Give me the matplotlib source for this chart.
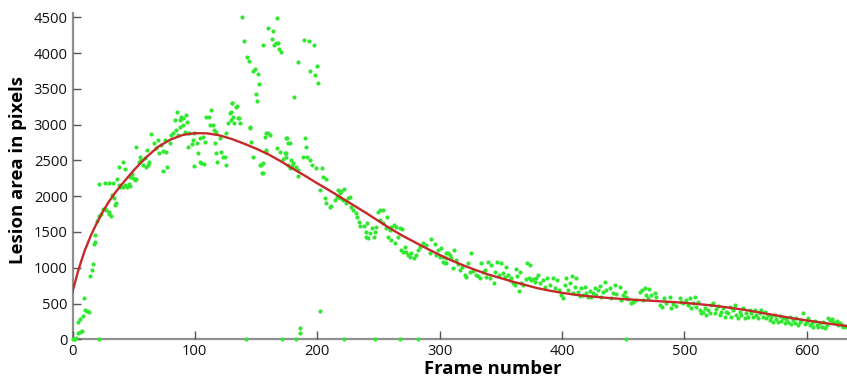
import matplotlib
matplotlib.use("Agg")
import matplotlib.pyplot as plt

# ---- data ----
pts_a = [(0,0),(1,8),(2,0),(3,12),(4.3,83),(6.2,106),(7.6,116),(4.3,246),(6.3,284),(8.4,330),
         (10.6,410),(12,400),(13.3,377),(9.3,573),(14.4,884),(15.8,968),(16.6,1048),(17.4,1327),
         (18.6,1364),(18,1457),(19.9,1657),(21.5,1723),(23.5,1747),(24.8,1817),(26.7,1825),
         (27.5,1807),(29.7,1751),(31.6,1727),(30.2,1779),(22,2166),(26.2,2188),(29.7,2188),
         (33,2188),(32.4,2016),(34.3,1970),(35.7,1900),(35.1,1872),(36.2,2240),(38.4,2156),
         (39.2,2124),(41.1,2124),(43.1,2156),(44.4,2124),(45.8,2170),(46.6,2142),(37.6,2412),
         (41.1,2482),(42.5,2380),(47.2,2272),(49.3,2258),(50.7,2226),(48.8,2310),(51.5,2236),
         (21.4,0)]

pts_b = [(51.5,2692),(54.8,2552),(56.1,2506),(57.5,2436),(54.2,2482),(58.9,2529),(60.8,2645),
         (60.2,2412),(61.6,2436),(62.9,2482),(64.3,2869),(67,2739),(68.4,2669),(69.8,2785),
         (71.1,2599),(72.5,2715),(73.9,2636),(76,2785),(76.6,2622),(73.9,2356),(77.1,2412),
         (79.3,2739),(80.7,2855),(82,2879),(84.8,2925),(86.1,2855),(83.4,3065),(85.3,3172),
         (87.5,3065),(88.8,3111),(90.7,3088),(92.4,3134),(87.5,2971),(90.2,2995),(91.6,2901),
         (93.7,3041),(95.6,2879),(94.3,2692),(97.8,2725),(99.7,2422),(98.4,2785),(101.6,2748),
         (99.7,2887),(103.8,2482),(105.2,2459),(107.1,2450),(102.4,2599),(106.5,2831),
         (103.8,2809),(107.9,2761),(109.3,3102),(111.4,3102),(112,2995),(113.4,3204),
         (114.7,2995),(115.3,2925),(116.9,2901),(116.1,2739),(117.4,2599),(118,2482),
         (120.2,2817),(121.5,2622),(122.9,2552),(124.3,2552),(125.1,2436),(125.6,2879),
         (127,3018),(128.9,3158),(129.7,3065),(130.5,3298),(132.4,3018),(133.8,3250),
         (135.1,3088),(136.5,3018),(144.7,2971),(146.1,2761),(147.4,2552),(152.9,2436),
         (141.4,0)]

pts_c = [(138.4,4508),(167,4494),(160,4346),(163.8,4308),(139.8,4173),(155.6,4113),
         (163.2,4192),(165,4113),(166.5,4136),(168,4136),(168.6,4052),(170,4011),(188.8,4183),
         (193,4173),(197,4113),(142.5,3941),(143.9,3889),(184.7,3880),(148.8,3773),(147.4,3750),
         (152,3707),(199.7,3824),(194,3754),(198,3698),(200.9,3586),(152.6,3563),(150.1,3428),
         (150.4,3335),(181.2,3390),(130.5,3306),(134.3,3260),(129.7,3176),(131.5,3111),
         (135.7,3088)]

pts_d = [(145.3,2948),(155.6,2459),(155.6,2320),(157,2831),(158.4,2879),(161.6,2855),
         (158.4,2622),(167.3,2669),(169.2,2622),(174.7,2809),(176,2739),(173.3,2599),
         (174.7,2552),(178.8,2506),(180.1,2459),(184.2,2366),(182.9,2412),(154.2,2436),
         (155.1,2328),(159.7,2879),(158.3,2645),(174.1,2608),(175.5,2809),(177.4,2748),
         (176,2436),(178,2390),(179.6,2422),(184.2,2282),(171.9,2515),(189.7,2809),(191,2692),
         (188.3,2552),(191.6,2543),(193.7,2506),(195.9,2436),(199.2,2390),(204.1,2390),
         (202.5,2086),(204.6,2264),(207.4,2236),(206,1970),(207.4,1900),(210.1,1845),
         (211.5,1863),(214.2,1947),(216.1,1993),(218.3,2040),(216.9,2086),(219.6,2077),
         (221.5,2096),(218.8,1970),(221,1947),(223.7,1900),(225.1,1970),(226.4,1993),
         (227.8,1853),(229.1,1807),(231.3,1761),(232.4,1713),(234,1643),(234.6,1583),
         (237.9,1583),(240.6,1621),(240.1,1504),(239.5,1434),(241.4,1411),(242.8,1481),
         (245,1551),(246.9,1504),(246.1,1434),(248.3,1574),(249.6,1783),(251.5,1807),
         (253.7,1807),(251,1667),(253.7,1621),(256.9,1713),(256.4,1551),(259.1,1527),
         (257.7,1434),(260.5,1574),(262.4,1597),(264.6,1574),(267.3,1551),(269.5,1537),
         (260.5,1388),(263.2,1341),(265.9,1434),(268.7,1248),(270,1224),(271.4,1294),
         (272.8,1224),(274.1,1178),(275.5,1154),(276.9,1202),(278.8,1132),(280.4,1178),
         (282.3,1248),(284.2,1294),(286.4,1341),(289.1,1318),(291.8,1202),(293.2,1397),
         (295.9,1332),(297.3,1178),(298.6,1248),(300,1154),(302.7,1154),(304.1,1062),
         (306.8,1202),(305.5,1132),(186.1,154),(186.1,84),(201.9,400),(171.6,0),(182.4,0),
         (222.3,0),(246.9,0),(267.3,0),(282.3,0)]

pts_e = [(301.4,1272),(304.9,1211),(308.2,1178),(311.5,1248),(302.7,1085),(305.5,1062),
         (309.6,1132),(313.7,1108),(315,1052),(310.9,992),(316.4,968),(318.6,1015),(320.4,899),
         (321.8,866),(323.2,1062),(325.9,1202),(325.1,945),(327.3,959),(329.4,899),(331.3,885),
         (332.7,861),(334.1,1062),(335.4,945),(336.8,968),(338.2,875),(339.5,1085),(340.9,852),
         (342.3,1038),(344.2,791),(345,945),(346.9,1085),(348.5,899),(350.4,1062),(351.8,931),
         (353.1,875),(354.5,1015),(355.9,899),(357.2,829),(358.6,861),(359.9,783),(361.3,759),
         (362.7,978),(363.2,885),(364.9,679),(366,945),(366.8,783),(368.1,759),(370.3,838),
         (371.4,1062),(373.6,1038),(373,852),(374.9,829),(376.3,838),(377.7,805),(379,861),
         (380.4,899),(381.8,783),(384.5,829),(385.8,727),(387.8,852),(389.9,759),(392.6,861),
         (394,713),(395.9,829),(397.6,689),(399.5,619),(400.8,573),(402.2,759),(403.6,861),
         (404.9,689),(406.3,783),(408.5,885),(409,643),(410.4,727),(411.7,852),(413.1,665),
         (414.5,605),(415.8,713),(417.2,619),(418.5,727),(419.9,643),(421.3,587),(422.6,679),
         (424,595),(425.4,643),(426.7,713),(428.1,619),(429.4,689),(430.8,745),(432.2,595),
         (433.5,665),(434.9,805),(436.3,689),(439,713),(440.4,573),(441.7,643),(443.1,759),
         (444.5,637),(447.2,727),(448.5,549),(449.9,619),(451.2,665),(452.6,595),(454,559),
         (456.7,503),(458.1,525),(460.8,549),(452.6,0)]

pts_f = [(463.5,665),(465.7,689),(467.6,713),(471.1,699),(469,619),(473,619),(475.7,643),
         (466.2,549),(470.3,573),(477.1,595),(479.8,479),(482,447),(483.1,573),(485.3,503),
         (488,595),(489.4,433),(490.8,493),(493.5,465),(496.2,573),(497.6,525),(499,503),
         (501.1,549),(503,479),(504.4,573),(505.8,433),(507.1,511),(508.5,595),(509.9,455),
         (511.2,525),(512.6,409),(514,363),(515.3,385),(516.7,433),(518.1,339),(519.4,409),
         (520.8,363),(522.1,479),(523.5,503),(524.9,363),(526.2,419),(527.6,465),(529,339),
         (530.3,385),(531.7,433),(533.1,315),(534.4,385),(535.8,363),(537.1,455),(538.5,307),
         (539.9,409),(541.2,479),(542.6,339),(544,293),(545.3,385),(546.7,339),(548.1,433),
         (549.4,293),(550.8,363),(552.1,315),(553.5,409),(554.9,363),(556.2,307),(557.6,409),
         (559,339),(560.3,293),(561.7,363),(563.1,409),(564.4,315),(565.8,385),(567.2,293),
         (568.5,339),(569.9,269),(571.2,307),(572.6,245),(574,339),(575.3,279),(576.7,245),
         (578.1,325),(579.4,259),(580.8,293),(582.2,223),(583.5,279),(584.9,245),(586.2,307),
         (587.6,213),(589,269),(590.3,231),(591.7,293),(593.1,199),(594.4,245),(595.8,269),
         (597.2,363),(598.5,213),(599.9,245),(601.3,293),(602.6,199),(604,231),(605.4,175),
         (606.7,259),(608.1,199),(609.4,167),(610.8,223),(612.2,175),(613.5,245),(614.9,153),
         (616.3,199),(617.6,293),(619,269),(620.4,279),(621.7,245),(623.1,223),(624.5,259),
         (625.8,199),(627.2,223),(628.6,199),(629.9,175),(631.3,185),(632.7,167)]

fit_x = [0,5,10,15,20,25,30,35,40,45,50,60,70,80,90,100,110,120,130,140,150,160,170,180,190,
         200,210,220,230,240,250,260,270,280,290,300,310,320,330,340,350,360,370,380,390,400,
         410,420,430,440,450,460,470,480,490,500,510,520,530,540,550,560,570,580,590,600,610,
         620,633]
fit_y = [665,980,1240,1450,1630,1790,1930,2050,2160,2260,2360,2540,2690,2790,2855,2880,2878,
         2850,2800,2735,2665,2585,2490,2385,2285,2180,2080,1975,1870,1765,1655,1545,1445,1355,
         1265,1180,1100,1030,965,905,855,805,760,715,680,650,625,605,590,575,563,552,542,532,
         522,510,495,478,458,435,410,380,350,320,290,265,240,215,185]

x_ticks = [0, 100, 200, 300, 400, 500, 600]
y_ticks = [0, 500, 1000, 1500, 2000, 2500, 3000, 3500, 4000, 4500]
x_label = "Frame number"
y_label = "Lesion area in pixels"

# ---- plot ----
plt.rcParams['font.family'] = ['Open Sans', 'DejaVu Sans']
fig = plt.figure(figsize=(8.47, 3.80), dpi=100)
ax = fig.add_axes([0.0856, 0.107, 0.9144, 0.859])

all_pts = pts_a + pts_b + pts_c + pts_d + pts_e + pts_f
xs = [p[0] for p in all_pts]
ys = [p[1] for p in all_pts]
ax.scatter(xs, ys, s=9, color='#30e830', linewidths=0, zorder=2, clip_on=False)
ax.plot(fit_x, fit_y, color='#c42a2a', lw=1.7, zorder=3)

ax.set_xlim(0, 633)
ax.set_ylim(0, 4560)
ax.set_xticks(x_ticks)
ax.set_yticks(y_ticks)
for s in ['top', 'right']:
    ax.spines[s].set_visible(False)
for s in ['left', 'bottom']:
    ax.spines[s].set_color('#909090')
    ax.spines[s].set_linewidth(1.6)
    ax.spines[s].set_zorder(1)
ax.tick_params(direction='in', length=6, width=1, color='#555555', labelsize=10.6,
               labelcolor='#111111')
ax.tick_params(axis='y', pad=3.5)
ax.tick_params(axis='x', pad=3)

ax.set_xlabel(x_label, fontsize=13.3, fontweight='bold')
ax.set_ylabel(y_label, fontsize=13.3, fontweight='bold')
ax.xaxis.set_label_coords(0.543, -0.062)
ax.yaxis.set_label_coords(-0.059, 0.52)

fig.savefig('out.png', dpi=100)
